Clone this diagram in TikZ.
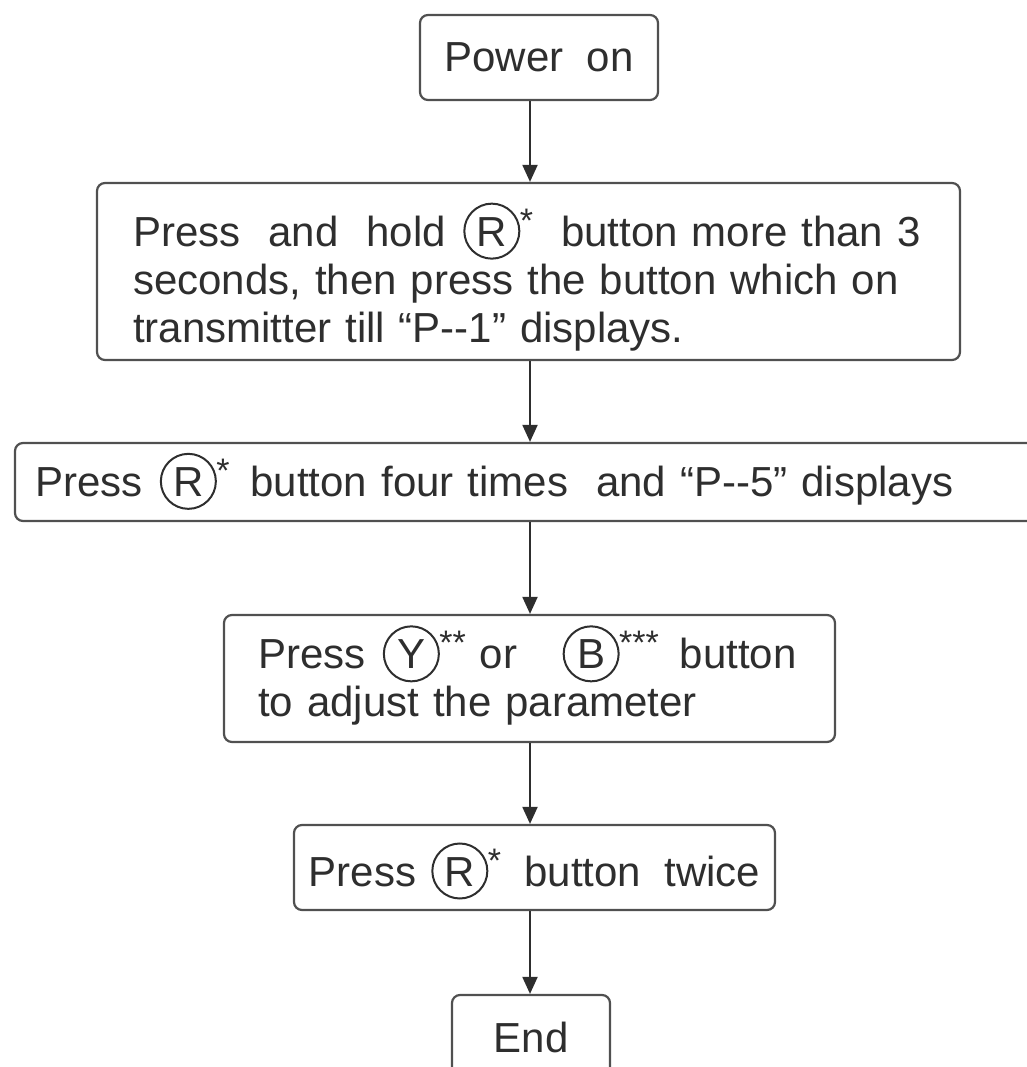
\documentclass[tikz,border=0pt]{standalone}
\usepackage{fontspec}
\setmainfont{Liberation Sans}
\usepackage{pict2e}
\usetikzlibrary{arrows.meta}
\definecolor{textcol}{HTML}{2E2E2E}
\definecolor{bordercol}{HTML}{505050}
\newcommand\btn[2]{\hspace{4pt}\rlap{\setlength\unitlength{1pt}\linethickness{2pt}\begin{picture}(0,0)\put(28,15){\circle{55}}\end{picture}}\makebox[56pt]{#1}\raisebox{14pt}{\fontsize{34}{34}\selectfont #2}}
\begin{document}
\begin{tikzpicture}[x=1pt,y=1pt,
  box/.style={draw=bordercol, line width=2.2pt, rounded corners=8pt, inner ysep=0pt,
    font=\fontsize{42}{48}\selectfont, text=textcol},
  arr/.style={draw=textcol, line width=2pt, -{Triangle[length=17pt,width=15pt]}}]
\useasboundingbox (0,0) rectangle (1026,-1067);
\coordinate (ax) at (530,0);
\node[box, minimum width=238pt, minimum height=85pt, align=center] (b1) at (539,-57.5) {Power\ \ on};
\node[box, text width=791pt, inner xsep=36pt, minimum height=177pt, align=left] (b2) at (528.5,-271.5)
  {\mbox{\rule{0pt}{54pt}Press\ \ and\ \ hold \btn{R}{*}\ \ button\ more than 3}\\seconds, then press the button which on\\transmitter till “P-{}-1” displays.};
\node[box, text width=990pt, inner xsep=20pt, minimum height=78pt, align=left] (b3) at (530,-482)
  {Press \btn{R}{*}\ \,button four times\ \ and “P-{}-5” displays};
\node[box, text width=543pt, inner xsep=34pt, minimum height=127pt, align=left] (b4) at (529.5,-678.5)
  {Press \btn{Y}{**} or\ \ \ \btn{B}{***}\ \,button\\to adjust the parameter};
\node[box, minimum width=481pt, minimum height=85pt, align=center] (b5) at (534.5,-867.5)
  {Press \btn{R}{*}\ \ button\ \ twice};
\node[box, minimum width=158pt, minimum height=85pt, align=center] (b6) at (531,-1037.5) {End};
\draw[arr] (b1.south -| ax) -- (b2.north -| ax);
\draw[arr] (b2.south -| ax) -- (b3.north -| ax);
\draw[arr] (b3.south -| ax) -- (b4.north -| ax);
\draw[arr] (b4.south -| ax) -- (b5.north -| ax);
\draw[arr] (b5.south -| ax) -- (b6.north -| ax);
\end{tikzpicture}
\end{document}
